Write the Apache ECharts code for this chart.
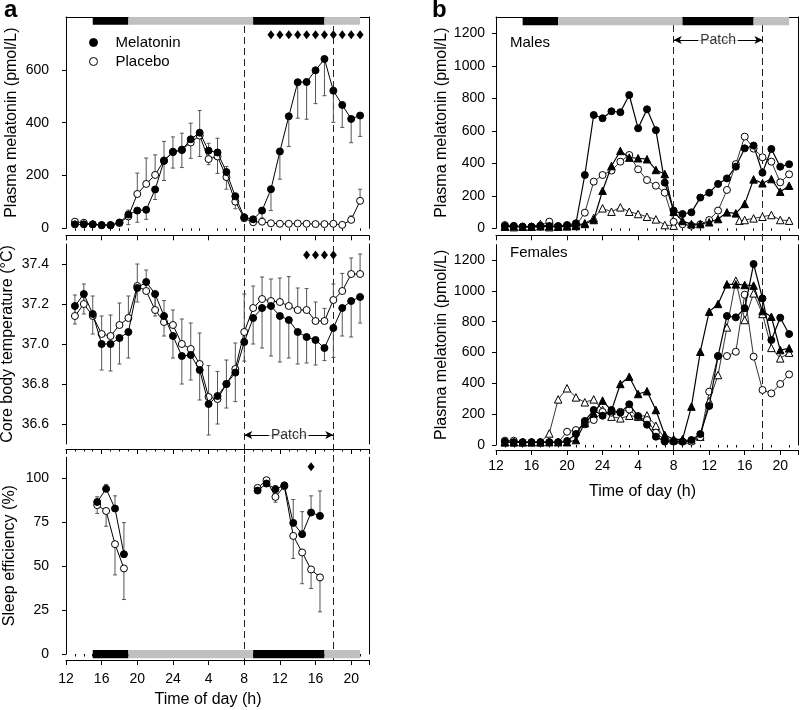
<!DOCTYPE html>
<html><head><meta charset="utf-8">
<script src="https://cdn.jsdelivr.net/npm/echarts@6/dist/echarts.min.js"></script>
<style>html,body{margin:0;padding:0;background:#fff}#c{width:800px;height:710px}</style>
</head><body><div id="c"></div>
<script>
// ================= DATA =================
var hours = [13,14,15,16,17,18,19,20,21,22,23,24,25,26,27,28,29,30,31,32,33,34,35,36,37,38,39,40,41,42,43,44,45];
var xTickValues = [12,16,20,24,28,32,36,40,44];
var xTickLabels = ['12','16','20','24','4','8','12','16','20'];
var majorTickValues = [12,16,20,24,28,32,36,40,44,46];
var minorTickValues = [13,14,15,17,18,19,21,22,23,25,26,27,29,30,31,33,34,35,37,38,39,41,42,43,45];
var patchWindow = [32, 42];              // 08:00 -> 18:00 next day
var darkLight = [[15,19,'dark'],[19,33,'light'],[33,41,'dark'],[41,45,'light']];

// Panel a - plasma melatonin (pmol/L)
var melA  = [15,15,15,12,12,22,52,67,70,147,255,290,296,337,362,294,287,213,121,42,34,67,148,291,424,553,554,598,641,521,467,414,427];
var melAErr = [4,4,4,4,4,8,38,44,36,38,74,62,66,72,90,53,79,65,47,10,6,28,81,105,114,136,141,126,139,120,85,90,79];
var placA = [25,21,15,12,12,20,45,130,168,202,257,288,298,325,351,262,272,194,101,38,23,25,19,17,17,18,17,16,16,17,13,32,104];
var placAErr = [4,4,4,4,4,8,24,79,98,76,72,58,62,73,95,60,69,40,32,10,5,5,5,5,5,5,5,5,5,5,5,15,44];
var sigMelHours = [35,36,37,38,39,40,41,42,43,44,45];

// Panel a - core body temperature (°C)
var tempMel = [37.19,37.25,37.15,37.00,37.00,37.03,37.06,37.28,37.31,37.25,37.14,37.04,36.94,36.945,36.87,36.70,36.74,36.80,36.857,37.01,37.13,37.18,37.19,37.14,37.12,37.06,37.035,37.02,36.98,37.08,37.18,37.215,37.235];
var tempMelErr = [0.09,0.10,0.10,0.13,0.135,0.13,0.13,0.07,0.05,0.11,0.10,0.11,0.14,0.125,0.15,0.155,0.14,0.12,0.145,0.095,0.13,0.20,0.25,0.23,0.19,0.16,0.13,0.125,0.063,0.147,0.14,0.18,0.13];
var tempPlac = [37.14,37.20,37.14,37.05,37.04,37.095,37.13,37.29,37.265,37.17,37.11,37.095,37.00,36.975,36.90,36.735,36.725,36.80,36.875,37.06,37.18,37.225,37.215,37.21,37.19,37.17,37.17,37.115,37.115,37.22,37.265,37.35,37.35];
var tempPlacErr = [0.105,0.10,0.10,0.09,0.105,0.11,0.11,0.11,0.105,0.08,0.107,0.075,0.125,0.13,0.155,0.157,0.138,0.12,0.13,0.19,0.11,0.11,0.11,0.12,0.147,0.11,0.107,0.095,0.063,0.08,0.088,0.08,0.10];
var sigTempHours = [39,40,41,42];

// Panel a - sleep efficiency (%)
var sleepHours = [15.5,16.5,17.5,18.5,33.5,34.5,35.5,36.5,37.5,38.5,39.5,40.5];
var sleepMel = [86.5,94,82.8,56.8,93,97,93.8,96,74.6,68.2,80.5,78.6];
var sleepMelErr = [3,2.5,7.2,18,1,1,2,1,13.3,12.8,9.5,14.2];
var sleepPlac = [84.7,81.4,62.5,48.7,94.5,98.9,89.4,95.5,67.2,57.8,48.1,43.6];
var sleepPlacErr = [4.7,8.7,17.5,17.7,1,1,3,1,12.8,17.8,10.8,19.6];
var sigSleepHours = [39.5];

// Panel b - males (individual subjects)
var maleFC = [14,14,10,10,14,14,14,20,31,328,697,677,720,714,820,615,732,604,281,109,88,98,189,219,273,307,379,492,509,342,488,379,394];
var maleOC = [20,14,10,10,16,41,10,16,14,96,287,328,355,410,451,363,297,262,219,40,25,16,24,51,109,236,395,564,490,437,410,283,332];
var maleFT = [12,12,10,10,12,12,10,12,14,27,51,231,383,476,435,431,425,359,334,102,45,26,26,37,57,98,92,150,301,277,303,225,262];
var maleOTHours = [13,14,15,16,17,18,19,20,21,22,23,24,25,26,27,28,29,30,31,32,39.4,40,41,42,43,44,45];
var maleOT = [10,7,10,10,26,7,10,14,20,31,63,123,102,129,102,88,71,55,20,16,47,51,61,71,82,51,47];

// Panel b - females (individual subjects)
var femFC = [21,18,18,18,18,18,18,26,71,156,227,190,227,210,264,188,132,54,22,22,22,32,71,253,577,837,828,887,1174,951,681,826,720];
var femOC = [28,28,18,18,18,18,18,86,97,134,162,215,210,215,230,180,162,80,32,26,22,22,50,346,577,577,605,975,573,357,335,396,458];
var femFT = [18,18,18,18,18,18,18,18,32,141,205,288,223,396,443,331,349,227,65,37,37,249,605,865,915,1042,1042,1038,1034,869,832,616,627];
var femOT = [18,18,18,18,18,75,296,368,309,277,296,227,184,173,190,184,192,125,43,32,32,32,54,285,454,763,1066,811,984,850,630,562,599];

// ================= BUILD =================
var FONT = '"Liberation Sans", Arial, Helvetica, sans-serif';
var BLACK = '#000';

function zipBreak(xs, ys) {
  var out = [];
  for (var i = 0; i < xs.length; i++) {
    if (i > 0 && xs[i] - xs[i - 1] > 1.5) out.push([(xs[i] + xs[i - 1]) / 2, '-']);
    out.push([xs[i], ys[i]]);
  }
  return out;
}
function zipErr(xs, ys, es) { return xs.map(function (x, i) { return [x, ys[i], es[i]]; }); }

var grids = [], xAxes = [], yAxes = [], series = [];
var P = {};

function addPanel(key, rect, c) {
  var g = grids.length;
  grids.push(Object.assign({ outerBoundsMode: 'none', containLabel: false }, rect));
  var gt = grids.length;
  grids.push(Object.assign({ outerBoundsMode: 'none', containLabel: false }, rect));
  var xi = xAxes.length;
  var mainX = {
    type: 'value', gridIndex: g, min: 12, max: 46, position: 'bottom', offset: c.xOffset,
    axisLine: { show: true, onZero: false, lineStyle: { color: BLACK, width: 1 } },
    axisTick: { show: true, length: 5, customValues: majorTickValues, lineStyle: { color: BLACK, width: 1 } },
    axisLabel: {
      show: !!c.xLabels, customValues: xTickValues, margin: c.xLabelMargin || 10,
      color: BLACK, fontSize: 14, fontFamily: FONT,
      formatter: function (v) { var i = xTickValues.indexOf(v); return i >= 0 ? xTickLabels[i] : ''; }
    },
    splitLine: { show: false }
  };
  if (c.xName) {
    mainX.name = c.xName; mainX.nameLocation = 'middle'; mainX.nameGap = c.xNameGap;
    mainX.nameTextStyle = { fontSize: 16, color: BLACK, fontFamily: FONT, padding: c.xNamePad || 0 };
  }
  xAxes.push(mainX);
  if (c.topFrame) {
    xAxes.push({ type: 'value', gridIndex: g, min: 12, max: 46, position: 'top',
      axisLine: { show: true, onZero: false, lineStyle: { color: BLACK, width: 1 } },
      axisTick: { show: false }, axisLabel: { show: false }, splitLine: { show: false } });
  }
  xAxes.push({ type: 'value', gridIndex: gt, min: 12, max: 46, position: 'bottom', offset: c.xOffset,
    axisLine: { show: false },
    axisTick: { show: true, length: 2.5, customValues: minorTickValues, lineStyle: { color: BLACK, width: 1 } },
    axisLabel: { show: false }, splitLine: { show: false } });
  var yi = yAxes.length;
  yAxes.push({
    type: 'value', gridIndex: g, min: c.yMin, max: c.yMax, position: 'left',
    axisLine: { show: true, onZero: false, lineStyle: { color: BLACK, width: 1 } },
    axisTick: { show: true, length: 4, customValues: c.yTicks, lineStyle: { color: BLACK, width: 1 } },
    axisLabel: { customValues: c.yTicks, margin: c.yLabelMargin, color: BLACK, fontSize: 14, fontFamily: FONT,
      formatter: c.yFmt || function (v) { return String(v); } },
    splitLine: { show: false },
    name: c.yName, nameLocation: 'middle', nameGap: c.yNameGap,
    nameTextStyle: { fontSize: 16, color: BLACK, fontFamily: FONT }
  });
  yAxes.push({ type: 'value', gridIndex: g, min: c.yMin, max: c.yMax, position: 'right',
    axisLine: { show: true, onZero: false, lineStyle: { color: BLACK, width: 1 } },
    axisTick: { show: false }, axisLabel: { show: false }, splitLine: { show: false } });
  yAxes.push({ type: 'value', gridIndex: gt, min: c.yMin, max: c.yMax, show: false });
  P[key] = { x: xi, y: yi };
}

function addOverlay(rect) {
  var g = grids.length;
  grids.push(Object.assign({ outerBoundsMode: 'none', containLabel: false }, rect));
  var xi = xAxes.length, yi = yAxes.length;
  xAxes.push({ type: 'value', gridIndex: g, min: 12, max: 46, show: false });
  yAxes.push({ type: 'value', gridIndex: g, min: 0, max: 1, show: false });
  series.push({
    type: 'line', xAxisIndex: xi, yAxisIndex: yi, data: [[12, -5]], symbol: 'none', silent: true,
    lineStyle: { opacity: 0 }, z: 1,
    markLine: { silent: true, symbol: 'none', z: 1, animation: false,
      lineStyle: { color: '#222', width: 1, type: [7, 4] }, label: { show: false },
      data: patchWindow.map(function (h) { return { xAxis: h }; }) }
  });
}

function lineSeries(p, name, xs, ys, symbol, filled, width) {
  return {
    type: 'line', name: name, xAxisIndex: P[p].x, yAxisIndex: P[p].y, data: zipBreak(xs, ys),
    symbol: symbol, symbolSize: symbol === 'triangle' ? 7.5 : 7, showSymbol: true, connectNulls: false,
    lineStyle: { color: BLACK, width: width || 1 },
    itemStyle: { color: filled ? BLACK : '#fff', borderColor: BLACK, borderWidth: 1 },
    emphasis: { disabled: true }, z: filled ? 4 : 3, silent: true
  };
}

function errSeries(p, xs, ys, es, dir) {
  return {
    type: 'custom', xAxisIndex: P[p].x, yAxisIndex: P[p].y, silent: true, z: 2,
    encode: { x: 0, y: 1 }, data: zipErr(xs, ys, es),
    renderItem: function (params, api) {
      var x = api.value(0), y = api.value(1), e = api.value(2);
      var p0 = api.coord([x, y]), p1 = api.coord([x, y + dir * e]);
      var st = { stroke: '#555', lineWidth: 1 };
      return { type: 'group', children: [
        { type: 'line', shape: { x1: p0[0], y1: p0[1], x2: p1[0], y2: p1[1] }, style: st },
        { type: 'line', shape: { x1: p1[0] - 2, y1: p1[1], x2: p1[0] + 2, y2: p1[1] }, style: st }
      ] };
    }
  };
}

function sigSeries(p, xs, level) {
  return {
    type: 'scatter', xAxisIndex: P[p].x, yAxisIndex: P[p].y, silent: true, z: 5,
    data: xs.map(function (h) { return [h, level]; }),
    symbol: 'diamond', symbolSize: [7, 9], itemStyle: { color: BLACK, opacity: 1 }
  };
}

function scheduleSeries(p, yLow, yHigh) {
  return {
    type: 'custom', xAxisIndex: P[p].x, yAxisIndex: P[p].y, silent: true, z: 10, clip: false,
    encode: { x: [0, 1] },
    data: darkLight.map(function (d) { return [d[0], d[1], d[2] === 'dark' ? 1 : 0]; }),
    renderItem: function (params, api) {
      var a = api.coord([api.value(0), yHigh]), b = api.coord([api.value(1), yLow]);
      return { type: 'rect', shape: { x: a[0], y: a[1], width: b[0] - a[0], height: b[1] - a[1] },
        style: { fill: api.value(2) === 1 ? '#000' : '#c0c0c0' } };
    }
  };
}

function patchSeries(p, level) {
  var mid = (patchWindow[0] + patchWindow[1]) / 2;
  return {
    type: 'scatter', xAxisIndex: P[p].x, yAxisIndex: P[p].y, silent: true, z: 8,
    data: [[mid, level]], symbolSize: 2, itemStyle: { color: 'rgba(0,0,0,0)' },
    label: { show: true, position: 'inside', formatter: 'Patch', color: BLACK, fontSize: 14,
      fontFamily: FONT, backgroundColor: '#fff', padding: [1, 2] },
    markLine: { silent: true, z: 6, animation: false, symbol: ['arrow', 'arrow'], symbolSize: [6, 8],
      lineStyle: { color: BLACK, width: 1, type: 'solid' }, label: { show: false },
      data: [[{ coord: [patchWindow[0], level] }, { coord: [patchWindow[1], level] }]] }
  };
}

// ---- panels ----
addPanel('a1', { left: 66, top: 17, width: 303, height: 211.3 }, {
  xOffset: 7, topFrame: true, yMin: 0, yMax: 800, yTicks: [0, 200, 400, 600],
  yName: 'Plasma melatonin (pmol/L)', yNameGap: 46, yLabelMargin: 17 });
addPanel('a2', { left: 66, top: 244, width: 303, height: 200 }, {
  xOffset: 5, yMin: 36.5, yMax: 37.5, yTicks: [36.6, 36.8, 37.0, 37.2, 37.4],
  yFmt: function (v) { return v.toFixed(1); },
  yName: 'Core body temperature (°C)', yNameGap: 50, yLabelMargin: 17 });
addPanel('a3', { left: 66, top: 457.2, width: 303, height: 196.8 }, {
  xOffset: 6, yMin: 0, yMax: 112, yTicks: [0, 25, 50, 75, 100],
  yName: 'Sleep efficiency (%)', yNameGap: 48, yLabelMargin: 17,
  xLabels: true, xLabelMargin: 12, xName: 'Time of day (h)', xNameGap: 32, xNamePad: [0, 19, 0, 0] });
addPanel('b1', { left: 496, top: 17, width: 302, height: 211.3 }, {
  xOffset: 7, topFrame: true, yMin: 0, yMax: 1300, yTicks: [0, 200, 400, 600, 800, 1000, 1200],
  yName: 'Plasma melatonin (pmol/L)', yNameGap: 46, yLabelMargin: 11 });
addPanel('b2', { left: 496, top: 244.6, width: 302, height: 200.4 }, {
  xOffset: 5, yMin: 0, yMax: 1300, yTicks: [0, 200, 400, 600, 800, 1000, 1200],
  yName: 'Plasma melatonin (pmol/L)', yNameGap: 46, yLabelMargin: 11,
  xLabels: true, xLabelMargin: 9, xName: 'Time of day (h)', xNameGap: 34, xNamePad: [0, 9, 0, 0] });

addOverlay({ left: 66, top: 17, width: 303, height: 643 });
addOverlay({ left: 496, top: 17, width: 302, height: 433 });

// panel a1
series.push(errSeries('a1', hours, melA, melAErr, -1));
series.push(errSeries('a1', hours, placA, placAErr, 1));
series.push(lineSeries('a1', 'Placebo', hours, placA, 'circle', false));
series.push(lineSeries('a1', 'Melatonin', hours, melA, 'circle', true));
series.push(sigSeries('a1', sigMelHours, 733));
series.push(scheduleSeries('a1', 771, 800));
// panel a2
series.push(errSeries('a2', hours, tempMel, tempMelErr, -1));
series.push(errSeries('a2', hours, tempPlac, tempPlacErr, 1));
series.push(lineSeries('a2', 'Placebo', hours, tempPlac, 'circle', false));
series.push(lineSeries('a2', 'Melatonin', hours, tempMel, 'circle', true));
series.push(sigSeries('a2', sigTempHours, 37.445));
series.push(patchSeries('a2', 36.545));
// panel a3
series.push(errSeries('a3', sleepHours, sleepMel, sleepMelErr, 1));
series.push(errSeries('a3', sleepHours, sleepPlac, sleepPlacErr, -1));
series.push(lineSeries('a3', 'Placebo', sleepHours, sleepPlac, 'circle', false));
series.push(lineSeries('a3', 'Melatonin', sleepHours, sleepMel, 'circle', true));
series.push(sigSeries('a3', sigSleepHours, 106.6));
series.push(scheduleSeries('a3', -2.4, 2.3));
// panel b1 (males)
series.push(lineSeries('b1', 'M-OT', maleOTHours, maleOT, 'triangle', false, 0.8));
series.push(lineSeries('b1', 'M-OC', hours, maleOC, 'circle', false, 0.8));
series.push(lineSeries('b1', 'M-FT', hours, maleFT, 'triangle', true, 1.2));
series.push(lineSeries('b1', 'M-FC', hours, maleFC, 'circle', true, 1.2));
series.push(scheduleSeries('b1', 1250, 1300));
series.push(patchSeries('b1', 1159));
// panel b2 (females)
series.push(lineSeries('b2', 'F-OT', hours, femOT, 'triangle', false, 0.8));
series.push(lineSeries('b2', 'F-OC', hours, femOC, 'circle', false, 0.8));
series.push(lineSeries('b2', 'F-FT', hours, femFT, 'triangle', true, 1.2));
series.push(lineSeries('b2', 'F-FC', hours, femFC, 'circle', true, 1.2));

var option = {
  animation: false, backgroundColor: '#fff',
  textStyle: { fontFamily: FONT },
  title: [
    { text: 'a', left: 4, top: -2, padding: 0, textStyle: { fontSize: 24, fontWeight: 'bold', color: BLACK, fontFamily: FONT } },
    { text: 'b', left: 432, top: -2, padding: 0, textStyle: { fontSize: 24, fontWeight: 'bold', color: BLACK, fontFamily: FONT } },
    { text: 'Males', left: 510, top: 35, padding: 0, textStyle: { fontSize: 15, fontWeight: 'normal', color: BLACK, fontFamily: FONT } },
    { text: 'Females', left: 510, top: 245, padding: 0, textStyle: { fontSize: 15, fontWeight: 'normal', color: BLACK, fontFamily: FONT } }
  ],
  legend: {
    left: 89, top: 35, orient: 'vertical', itemWidth: 14, itemHeight: 8, itemGap: 4, icon: 'circle',
    selectedMode: false, padding: 0,
    textStyle: { fontSize: 15, color: BLACK, fontFamily: FONT, padding: [0, 0, 0, 10] },
    data: [
      { name: 'Melatonin', itemStyle: { color: BLACK, borderColor: BLACK, borderWidth: 1 } },
      { name: 'Placebo', itemStyle: { color: '#fff', borderColor: BLACK, borderWidth: 1 } }
    ]
  },
  grid: grids, xAxis: xAxes, yAxis: yAxes, series: series
};

var chart = echarts.init(document.getElementById('c'), null, { renderer: 'canvas' });
chart.setOption(option);
</script>
</body></html>
